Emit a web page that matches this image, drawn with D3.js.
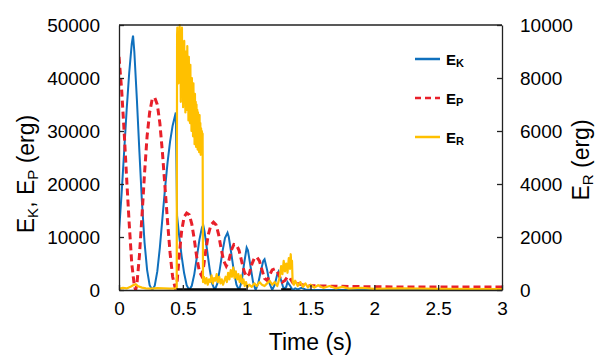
<!DOCTYPE html>
<html>
<head>
<meta charset="utf-8">
<script src="https://cdn.jsdelivr.net/npm/d3@7"></script>
<style>
  body { margin: 0; background: #fff; }
  text { font-family: "Liberation Sans", Arial, sans-serif; fill: #000; }
</style>
</head>
<body>
<script>
const width = 595;
const height = 362;
const margin = { top: 25, right: 93, bottom: 72, left: 119 };

// kinetic energy (erg), left axis
const ekTime = [0, 0.02, 0.04, 0.06, 0.08, 0.10, 0.11, 0.12, 0.14, 0.16, 0.18, 0.20, 0.22, 0.24, 0.26, 0.28, 0.30, 0.32, 0.34, 0.36, 0.38, 0.40, 0.42, 0.44, 0.445,
  0.455, 0.47, 0.49, 0.51, 0.53, 0.55, 0.57, 0.59, 0.61, 0.63, 0.65, 0.66, 0.67, 0.69, 0.71, 0.73, 0.75, 0.77, 0.79, 0.81, 0.83, 0.85, 0.86, 0.88, 0.90, 0.92, 0.94,
  0.96, 0.98, 1.00, 1.01, 1.03, 1.05, 1.07, 1.09, 1.11, 1.13, 1.14, 1.16, 1.18, 1.20, 1.22, 1.24, 1.25, 1.27, 1.29, 1.31, 1.32, 1.34, 1.36, 1.38, 1.40, 1.43, 1.46, 1.5, 2.0, 3.0];
const ekValue = [11000, 18000, 26000, 34000, 41000, 46500, 48000, 45000, 36000, 26000, 16500, 9000, 3800, 900, 0, 800, 3500, 8000, 13500, 19000, 24000, 28000, 31000, 33000, 33500,
  14000, 10500, 6500, 3200, 900, 0, 800, 3000, 6200, 9500, 11800, 12200, 11000, 7500, 4000, 1200, 0, 1200, 4000, 7200, 9800, 10800, 10000, 6800, 3500, 1000, 0,
  1500, 5000, 8000, 7500, 4500, 1500, 0, 1200, 3500, 5500, 5800, 3800, 1200, 0, 1000, 3000, 3500, 1800, 200, 600, 1500, 800, 0, 300, 100, 400, 100, 50, 0, 0];

// potential energy (erg), left axis
const epTime = [0, 0.02, 0.04, 0.06, 0.08, 0.10, 0.12, 0.13, 0.14, 0.16, 0.18, 0.20, 0.22, 0.24, 0.26, 0.28, 0.30, 0.32, 0.34, 0.36, 0.38, 0.40, 0.42, 0.44,
  0.455, 0.47, 0.49, 0.51, 0.53, 0.55, 0.57, 0.59, 0.61, 0.63, 0.645, 0.66, 0.68, 0.70, 0.72, 0.74, 0.76, 0.78, 0.80, 0.82, 0.84, 0.86, 0.88, 0.90, 0.92, 0.94,
  0.96, 0.98, 1.00, 1.02, 1.04, 1.06, 1.08, 1.10, 1.12, 1.14, 1.16, 1.18, 1.20, 1.22, 1.24, 1.26, 1.28, 1.30, 1.32, 1.34, 1.36, 1.38, 1.40, 1.45, 1.5, 1.7, 2.0, 2.5, 3.0];
const epValue = [44000, 38000, 30000, 21000, 12500, 5000, 800, 0, 1000, 6500, 14000, 22000, 29000, 33500, 36000, 36300, 35000, 31500, 26000, 19500, 13000, 7000, 2500, 400,
  1500, 6000, 11000, 13800, 14500, 14200, 12500, 9500, 6000, 3500, 2800, 4000, 7500, 10500, 12300, 12800, 12300, 10500, 7800, 5500, 4500, 5500, 7500, 8600, 8500, 7500,
  5500, 3500, 2500, 3000, 4800, 6000, 6200, 5500, 3800, 2200, 1800, 2800, 3800, 4000, 3500, 2400, 1500, 1800, 2500, 2200, 1400, 1000, 1200, 900, 800, 700, 600, 550, 550];

// rotational energy (erg), right axis
const erTime = [0, 0.03, 0.06, 0.09, 0.11, 0.13, 0.15, 0.18, 0.21, 0.25, 0.30, 0.35, 0.40, 0.44, 0.452, 0.455,
  0.457, 0.460, 0.463, 0.466, 0.469, 0.472, 0.475, 0.478, 0.481, 0.484, 0.487, 0.490, 0.493, 0.496, 0.499, 0.502, 0.505, 0.508, 0.511, 0.514,
  0.517, 0.520, 0.523, 0.526, 0.529, 0.532, 0.535, 0.538, 0.541, 0.544, 0.547, 0.550, 0.553, 0.556, 0.559, 0.562, 0.565, 0.568, 0.571, 0.574,
  0.577, 0.580, 0.583, 0.586, 0.589, 0.592, 0.595, 0.598, 0.601, 0.604, 0.607, 0.610, 0.613, 0.616, 0.619, 0.622, 0.625, 0.628, 0.631, 0.634,
  0.637, 0.640, 0.643, 0.646, 0.649, 0.652, 0.655, 0.658,
  0.665, 0.675, 0.685, 0.695, 0.705, 0.715, 0.725, 0.735, 0.745, 0.755, 0.765, 0.775, 0.785, 0.795, 0.805, 0.815, 0.825, 0.835, 0.845, 0.855,
  0.865, 0.875, 0.885, 0.895, 0.905, 0.915, 0.925, 0.935, 0.945, 0.955, 0.965, 0.975, 0.985, 0.995, 1.005, 1.02, 1.04, 1.06, 1.08, 1.10,
  1.12, 1.14, 1.16, 1.18, 1.20, 1.22, 1.24, 1.26, 1.27, 1.28, 1.29, 1.30, 1.31, 1.32, 1.33, 1.34, 1.345, 1.35, 1.355, 1.36, 1.37, 1.38,
  1.40, 1.42, 1.44, 1.46, 1.48, 1.50, 1.53, 1.56, 1.6, 1.65, 1.7, 1.75, 1.8, 1.9, 2.0, 2.2, 2.5, 3.0];
const erValue = [40, 80, 60, 120, 180, 220, 140, 90, 60, 50, 70, 60, 50, 60, 80, 9600,
  9900, 8200, 9500, 7800, 9700, 8400, 10000, 7900, 9800, 7100, 9600, 8300, 9900, 7500, 9300, 6900, 9100, 7700, 9400, 7200,
  8900, 6700, 9000, 7400, 8600, 6800, 9200, 7100, 8400, 6400, 8800, 7000, 8200, 6300, 8500, 6600, 7900, 6000, 8000, 6400,
  7600, 5800, 7800, 6100, 7300, 5500, 7400, 5700, 7100, 5400, 7000, 5600, 6800, 5300, 6700, 5500, 6500, 5200, 6600, 5400,
  6300, 5100, 6100, 5200, 6000, 5300, 5900, 300,
  500, 250, 450, 200, 400, 300, 550, 250, 450, 350, 600, 300, 500, 250, 400, 200, 350, 500, 300, 650,
  400, 750, 500, 850, 450, 700, 400, 600, 300, 550, 250, 400, 150, 300, 100, 200, 120, 250, 150, 300,
  200, 150, 250, 350, 200, 300, 150, 500, 900, 600, 1100, 700, 1000, 650, 1200, 800, 1350, 900, 1100, 300, 200, 350,
  150, 300, 120, 250, 100, 200, 90, 180, 80, 150, 60, 120, 50, 80, 40, 60, 40, 30];

// contact intervals drawn on the time axis (s)
const contactStart = [0.45, 1.27];
const contactEnd = [1.0, 1.35];

const xTicks = [0, 0.5, 1, 1.5, 2, 2.5, 3];
const yLeftTicks = [0, 10000, 20000, 30000, 40000, 50000];
const yRightTicks = [0, 2000, 4000, 6000, 8000, 10000];

const svg = d3.select('body').append('svg').attr('width', width).attr('height', height);

const x = d3.scaleLinear().domain([0, 3]).range([margin.left, width - margin.right]);
const yL = d3.scaleLinear().domain([0, 50000]).range([height - margin.bottom, margin.top]);
const yR = d3.scaleLinear().domain([0, 10000]).range([height - margin.bottom, margin.top]);

svg.append('clipPath').attr('id', 'plot')
    .append('rect')
    .attr('x', margin.left).attr('y', margin.top - 1)
    .attr('width', x(3) - x(0)).attr('height', yL(0) - yL(50000) + 2);

const plot = svg.append('g').attr('clip-path', 'url(#plot)');

const lineL = d3.line().x(d => x(d[0])).y(d => yL(d[1]));
const lineR = d3.line().x(d => x(d[0])).y(d => yR(d[1]));

plot.append('path')
    .attr('d', lineL(d3.zip(ekTime, ekValue)))
    .attr('fill', 'none').attr('stroke', '#0f70bd').attr('stroke-width', 2);

plot.append('path')
    .attr('d', lineL(d3.zip(epTime, epValue)))
    .attr('fill', 'none').attr('stroke', '#e8202a').attr('stroke-width', 3)
    .attr('stroke-dasharray', '7,4');

plot.append('path')
    .attr('d', lineR(d3.zip(erTime, erValue)))
    .attr('fill', 'none').attr('stroke', '#ffc000').attr('stroke-width', 2.2)
    .attr('stroke-linejoin', 'round');

plot.selectAll('.contact')
    .data(d3.zip(contactStart, contactEnd))
    .enter().append('line')
    .attr('class', 'contact')
    .attr('x1', d => x(d[0])).attr('x2', d => x(d[1]))
    .attr('y1', yL(0) - 0.5).attr('y2', yL(0) - 0.5)
    .attr('stroke', '#000').attr('stroke-width', 2.5);

// axes, ticks pointing inward
const fontSize = '19px';

const xAxis = svg.append('g')
    .attr('transform', `translate(0,${yL(0)})`)
    .call(d3.axisBottom(x).tickValues(xTicks).tickSizeInner(-5).tickSizeOuter(0).tickPadding(12)
        .tickFormat(d3.format('')));

const leftAxis = svg.append('g')
    .attr('transform', `translate(${margin.left},0)`)
    .call(d3.axisLeft(yL).tickValues(yLeftTicks).tickSizeInner(-5).tickSizeOuter(0).tickPadding(19)
        .tickFormat(d3.format('d')));

const rightAxis = svg.append('g')
    .attr('transform', `translate(${width - margin.right},0)`)
    .call(d3.axisRight(yR).tickValues(yRightTicks).tickSizeInner(-5).tickSizeOuter(0).tickPadding(18)
        .tickFormat(d3.format('d')));

[xAxis, leftAxis, rightAxis].forEach(a => {
    a.selectAll('text').style('font-size', fontSize).attr('fill', '#000');
    a.selectAll('line').attr('stroke', '#222').attr('stroke-width', 1.3);
    a.select('.domain').attr('stroke', '#222').attr('stroke-width', 1.3);
});
xAxis.selectAll('text').attr('dy', '0.71em');

svg.append('line')
    .attr('x1', margin.left).attr('x2', width - margin.right)
    .attr('y1', margin.top).attr('y2', margin.top)
    .attr('stroke', '#222').attr('stroke-width', 1.3);

// axis titles
svg.append('text')
    .attr('x', (x(0) + x(3)) / 2).attr('y', 350)
    .attr('text-anchor', 'middle').style('font-size', '23px')
    .text('Time (s)');

function subLabel(sel, parts, big, small, shift) {
    parts.forEach(p => {
        sel.append('tspan')
            .style('font-size', p.sub ? small : big)
            .attr('dy', p.sub ? shift : (p.back ? -shift : 0))
            .text(p.t);
    });
}

const leftTitle = svg.append('text')
    .attr('transform', 'translate(34,174) rotate(-90)')
    .attr('text-anchor', 'middle');
subLabel(leftTitle, [{ t: 'E' }, { t: 'K', sub: true }, { t: ', E', back: true }, { t: 'P', sub: true }, { t: ' (erg)', back: true }], '23px', '15px', 4);

const rightTitle = svg.append('text')
    .attr('transform', 'translate(589,160) rotate(-90)')
    .attr('text-anchor', 'middle');
subLabel(rightTitle, [{ t: 'E' }, { t: 'R', sub: true }, { t: ' (erg)', back: true }], '23px', '15px', 4);

// legend
const legendNames = ['K', 'P', 'R'];
const legendColors = ['#0f70bd', '#e8202a', '#ffc000'];
const legendDash = [null, '6,4', null];

const legend = svg.append('g');
legendNames.forEach((n, i) => {
    const ly = 59 + i * 39;
    legend.append('line')
        .attr('x1', 415).attr('x2', 440).attr('y1', ly).attr('y2', ly)
        .attr('stroke', legendColors[i]).attr('stroke-width', 2.5)
        .attr('stroke-dasharray', legendDash[i]);
    const t = legend.append('text').attr('x', 446).attr('y', ly + 6).style('font-weight', 'bold');
    subLabel(t, [{ t: 'E' }, { t: n, sub: true }], '15px', '11px', 2);
});
</script>
</body>
</html>
